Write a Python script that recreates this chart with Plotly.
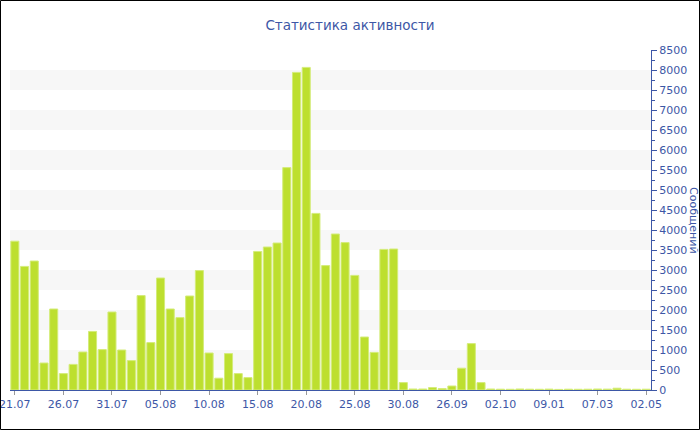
import plotly.graph_objects as go

dates = ["21.07","22.07","23.07","24.07","25.07","26.07","27.07","28.07","29.07","30.07",
         "31.07","01.08","02.08","03.08","04.08","05.08","06.08","07.08","08.08","09.08",
         "10.08","11.08","12.08","13.08","14.08","15.08","16.08","17.08","18.08","19.08",
         "20.08","21.08","22.08","23.08","24.08","25.08","26.08","27.08","28.08","29.08",
         "30.08","31.08","03.09","10.09","18.09","26.09","27.09","28.09","29.09","01.10",
         "02.10","05.10","15.10","03.11","20.12","09.01","21.01","02.02","14.02","25.02",
         "07.03","18.03","29.03","08.04","20.04","02.05"]
messages = [3720, 3090, 3225, 675, 2025, 410, 640, 950, 1465, 1010,
            1950, 1000, 735, 2360, 1185, 2800, 2025, 1810, 2350, 2985,
            925, 295, 910, 410, 310, 3465, 3575, 3675, 5560, 7940,
            8065, 4415, 3110, 3900, 3685, 2865, 1325, 940, 3515, 3525,
            185, 25, 25, 60, 35, 100, 545, 1160, 185, 25,
            20, 18, 25, 20, 18, 22, 15, 20, 18, 20,
            25, 22, 45, 20, 18, 20]
tick_labels = dates[::5]

title_text = "Статистика активности"
y_title = "Сообщений"

blue = "#3d57a6"
L, R, T, B = 10, 49, 50, 40
W, H = 700, 430
pw, ph = W - L - R, H - T - B

fig = go.Figure()
fig.add_trace(go.Bar(
    x=dates, y=messages,
    marker=dict(color="#bddf2f", line=dict(color="#d4ec7a", width=1)),
    hoverinfo="x+y",
))

shapes = []
for lo in range(500, 8500, 1000):
    shapes.append(dict(type="rect", xref="paper", yref="y", x0=0, x1=1, y0=lo, y1=lo + 500,
                       fillcolor="#f7f7f7", line=dict(width=0), layer="below"))
# outer border of the image
shapes.append(dict(type="rect", xref="paper", yref="paper",
                   x0=(0.5 - L) / pw, x1=(W - 0.5 - L) / pw,
                   y0=(H - B - (H - 0.5)) / ph, y1=(H - B - 0.5) / ph,
                   line=dict(color="black", width=1), fillcolor="rgba(0,0,0,0)"))

fig.update_layout(
    width=W, height=H,
    margin=dict(l=L, r=R, t=T, b=B, autoexpand=False),
    paper_bgcolor="white", plot_bgcolor="white",
    showlegend=False,
    bargap=0.17,
    font=dict(family="DejaVu Sans", size=11, color=blue),
    title=dict(text=title_text, x=0.5, xref="container", xanchor="center",
               yref="container", y=1 - 25 / H, yanchor="middle",
               font=dict(family="DejaVu Sans", size=13.5, color=blue)),
    shapes=shapes,
    annotations=[dict(text=y_title, textangle=90, xref="paper", yref="paper",
                      x=(694 - L) / pw, y=0.5, xanchor="center", yanchor="middle",
                      showarrow=False, font=dict(family="DejaVu Sans", size=11, color=blue))],
)
fig.update_xaxes(
    type="category", tickmode="array", tickvals=tick_labels, ticktext=tick_labels,
    range=[-0.5, len(dates) - 0.5], automargin=False,
    showline=True, linecolor=blue, linewidth=1,
    ticks="outside", ticklen=4, tickcolor="#999999",
    showgrid=False, tickfont=dict(size=11, color=blue),
)
fig.update_yaxes(
    side="right", range=[0, 8500], tickmode="linear", tick0=0, dtick=500, automargin=False,
    showline=True, linecolor=blue, linewidth=1,
    ticks="outside", ticklen=5, tickcolor=blue,
    minor=dict(ticks="outside", ticklen=3, dtick=250, tickcolor=blue, showgrid=False),
    showgrid=False, zeroline=False, tickfont=dict(size=11, color=blue),
)

fig.write_html("out.html", config={"displayModeBar": False},
               post_script="document.body.style.margin='0';document.body.style.overflow='hidden';")
